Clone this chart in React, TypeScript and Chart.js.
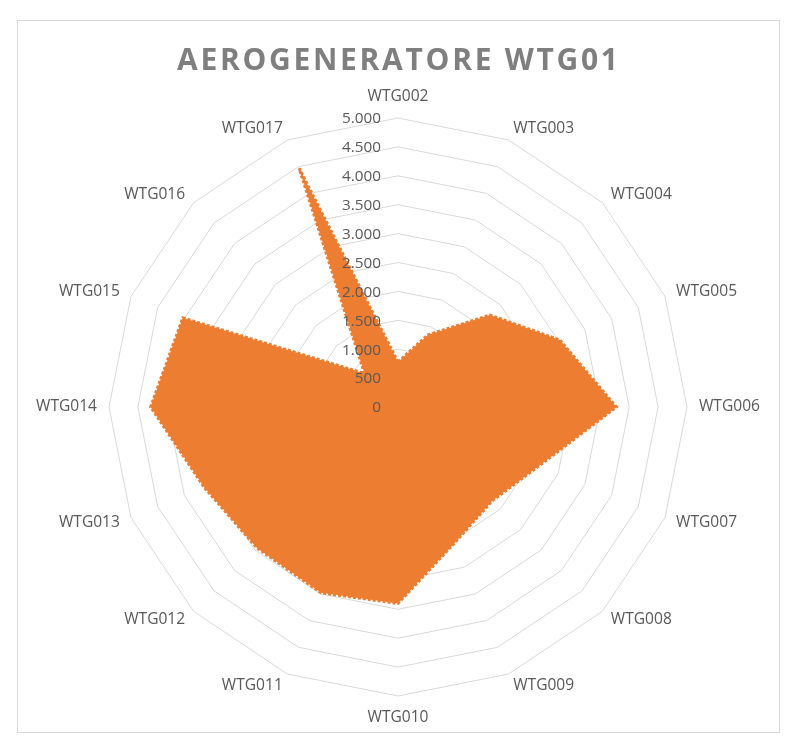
import React, { useEffect, useRef } from "react";
import { Chart, registerables } from "chart.js";

Chart.register(...registerables);

const titleText = "AEROGENERATORE WTG01";
const categories = [
  "WTG002", "WTG003", "WTG004", "WTG005", "WTG006", "WTG007", "WTG008", "WTG009",
  "WTG010", "WTG011", "WTG012", "WTG013", "WTG014", "WTG015", "WTG016", "WTG017",
];
const seriesValues = [
  780, 1350, 2250, 3030, 3780, 2650, 2300, 2550,
  3400, 3480, 3450, 3630, 4280, 4030, 820, 4470,
];
const axisMin = 0;
const axisMax = 5000;
const axisStep = 500;

const formatTick = (v: number) =>
  String(Math.round(v)).replace(/\B(?=(\d{3})+(?!\d))/g, ".");

const FONT = "'Open Sans', Lato, sans-serif";
const TEXT_COLOR = "#595959";

function fitSize(ctx: CanvasRenderingContext2D, text: string, weight: string, target: number) {
  ctx.font = `${weight} 100px ${FONT}`;
  const w = ctx.measureText(text).width;
  return (100 * target) / w;
}

const overlayPlugin = {
  id: "excelOverlay",
  afterDatasetsDraw(chart: any) {
    const ctx = chart.ctx as CanvasRenderingContext2D;
    const scale = chart.scales.r;
    ctx.save();
    // tick labels (left of axis, right aligned)
    const tickSize = Math.min(16, fitSize(ctx, "5.000", "normal", 39));
    ctx.font = `${tickSize}px ${FONT}`;
    ctx.fillStyle = TEXT_COLOR;
    ctx.textAlign = "right";
    ctx.textBaseline = "middle";
    scale.ticks.forEach((t: any) => {
      const d = scale.getDistanceFromCenterForValue(t.value);
      ctx.fillText(formatTick(t.value), scale.xCenter - 17, scale.yCenter - d + 1);
    });
    // point labels
    const labSize = Math.min(16, fitSize(ctx, "WTG006", "normal", 61));
    ctx.font = `${labSize}px ${FONT}`;
    const labels = chart.data.labels as string[];
    labels.forEach((lab, i) => {
      const p = scale.getPointPosition(i, scale.drawingArea + 12);
      const a = scale.getIndexAngle(i);
      const s = Math.sin(a);
      const c = Math.cos(a);
      ctx.textAlign = s > 0.05 ? "left" : s < -0.05 ? "right" : "center";
      if (Math.abs(s) <= 0.05) {
        ctx.textBaseline = c > 0 ? "bottom" : "top";
        ctx.fillText(lab, p.x, p.y + (c > 0 ? -2 : 2));
      } else {
        ctx.textBaseline = "middle";
        ctx.fillText(lab, p.x, p.y);
      }
    });
    // title with letter spacing
    ctx.font = `bold 30px ${FONT}`;
    ctx.fillStyle = "#7f7f7f";
    ctx.textAlign = "left";
    ctx.textBaseline = "alphabetic";
    const targetW = 441;
    const n = titleText.length;
    const baseW = ctx.measureText(titleText).width;
    const spacing = (targetW - baseW) / (n - 1);
    let x = 177;
    for (const ch of titleText) {
      ctx.fillText(ch, x, 69.5);
      x += ctx.measureText(ch).width + spacing;
    }
    ctx.restore();
  },
};

export default function App() {
  const ref = useRef<HTMLCanvasElement | null>(null);
  useEffect(() => {
    if (!ref.current) return;
    const chart = new Chart(ref.current, {
      type: "radar",
      data: {
        labels: categories,
        datasets: [
          {
            label: titleText,
            data: seriesValues,
            backgroundColor: "#ed7d31",
            borderColor: "#ed7d31",
            borderWidth: 3,
            borderDash: [3, 2],
            fill: true,
            pointRadius: 0,
            pointHoverRadius: 0,
            tension: 0,
          },
        ],
      },
      options: {
        responsive: false,
        animation: false,
        devicePixelRatio: 1,
        layout: { padding: { left: 109, right: 109, top: 118, bottom: 45 } },
        plugins: {
          legend: { display: false },
          title: { display: false },
          tooltip: { enabled: false },
        },
        scales: {
          r: {
            min: axisMin,
            max: axisMax,
            beginAtZero: true,
            ticks: { stepSize: axisStep, display: false },
            grid: { color: "#d9d9d9", lineWidth: 1, circular: false },
            angleLines: { display: false },
            pointLabels: { display: false },
          },
        },
      },
      plugins: [overlayPlugin],
    });
    return () => chart.destroy();
  }, []);
  return (
    <div>
      <div
        style={{
          position: "absolute",
          left: 17,
          top: 20,
          width: 763,
          height: 713,
          boxSizing: "border-box",
          border: "1px solid #d9d9d9",
          background: "#fff",
        }}
      />
      <canvas
        ref={ref}
        width={796}
        height={741}
        style={{ position: "absolute", left: 0, top: 0, width: 796, height: 741 }}
      />
    </div>
  );
}
